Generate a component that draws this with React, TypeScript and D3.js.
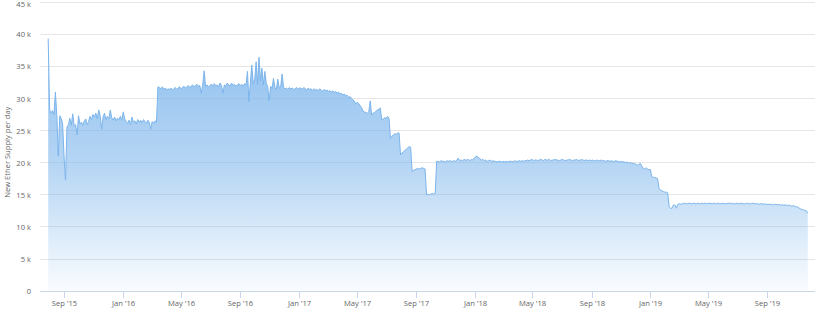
import React from "react";
import * as d3 from "d3";

// ---- data ----
const startDate = Date.UTC(2015, 6, 30); // Ethereum genesis
const stepDays = 3;
// New Ether supply per day, in thousands of ETH, one value every 3 days
const supplyK: number[] = [
  39.4, 28.3, 27.8, 28.2, 27.6, 31.1, 27.4, 21.1, 27.4, 27.0, 26.2, 21.0, 17.4,
  25.6, 26.0, 27.0, 25.9, 27.7, 25.8, 26.0, 24.4, 27.4, 26.1,
  26.4, 25.9, 26.6, 26.9, 26.0, 26.5, 27.3, 26.8, 27.6, 27.2,
  27.8, 26.9, 28.3, 27.4, 25.3, 27.2, 27.8, 26.8, 27.3, 26.9,
  28.3, 27.1, 26.7, 27.2, 26.6, 27.0, 26.8, 27.3, 26.7, 28.0,
  26.9, 26.5, 26.2, 26.7, 26.0, 27.2, 26.4, 26.6, 26.1, 26.8,
  26.4, 26.7, 26.3, 26.8, 26.5, 26.2, 26.7, 26.4, 25.3, 26.5,
  26.2, 26.6, 26.4, 31.9,
  31.8, 31.6, 31.9, 31.5, 31.7, 31.4, 31.6, 31.5, 31.7, 31.4,
  31.6, 31.8, 31.5, 31.7, 31.9, 31.6, 31.8, 32.0, 31.7, 31.9,
  32.1, 31.8, 32.0, 32.2, 31.9, 32.1, 32.3, 32.0, 32.1, 30.9,
  32.2, 34.4, 32.0, 32.2, 31.9, 32.1, 32.3, 32.0, 32.4, 32.1,
  32.2, 31.9, 32.5, 32.1, 30.9, 32.2, 32.0, 32.5, 32.2, 32.0,
  32.5, 32.1, 32.3, 32.0, 32.2, 32.4, 32.1, 32.3, 32.0, 32.4,
  32.2, 34.3, 29.6, 32.5, 35.3, 32.4, 33.0, 35.8, 32.3, 36.5,
  32.8, 34.8, 32.2, 34.3, 32.5, 31.9, 29.7, 32.0, 31.6, 33.2,
  31.8, 31.5, 33.1, 31.7, 31.9, 33.9, 31.8, 31.6, 31.7, 31.5,
  31.8, 31.6, 31.7, 31.5, 31.6, 31.8, 31.5, 31.7,
  31.7, 31.5, 31.8, 31.6, 31.4, 31.7, 31.5, 31.6, 31.3, 31.6,
  31.4, 31.5, 31.3, 31.6, 31.4, 31.2, 31.5, 31.3, 31.4, 31.2,
  31.3, 31.1, 31.3, 31.0, 31.2, 30.9, 31.1, 30.8, 30.9, 30.6,
  30.8, 30.5, 30.6, 30.2, 30.4, 30.1, 29.9, 29.7, 29.2, 29.5,
  29.3, 29.0, 28.7, 28.1, 28.0, 27.9, 27.8, 28.0, 29.7, 27.5,
  27.8, 27.9, 28.1, 28.3, 28.4, 28.6, 26.7, 26.9, 27.1, 27.0,
  27.3, 27.0, 23.9, 24.2, 24.4, 24.6, 24.5, 24.7, 24.7, 21.3,
  21.6, 21.8, 22.0, 22.2, 22.4, 22.6, 22.5, 18.7, 18.9, 19.0,
  19.1, 19.2, 19.1, 19.2, 19.3, 19.2, 19.1, 15.1, 15.2, 15.1,
  15.2, 15.3, 15.2, 15.3, 20.3,
  20.3, 20.2, 20.4, 20.3, 20.3, 20.2, 20.4, 20.3, 20.4, 20.3,
  20.3, 20.4, 20.3, 20.5, 20.8, 20.4, 20.5, 20.4, 20.6, 20.5,
  20.5, 20.6, 20.4, 20.6, 20.5, 20.8, 21.0, 21.1, 20.9, 20.7,
  20.5, 20.6, 20.4, 20.5, 20.3, 20.4, 20.5, 20.3, 20.4, 20.3,
  20.3, 20.2, 20.3, 20.3, 20.2, 20.3, 20.2, 20.3, 20.2, 20.3,
  20.3, 20.3, 20.2, 20.4, 20.3, 20.3, 20.4, 20.3, 20.4, 20.3,
  20.4, 20.4, 20.5, 20.4, 20.5, 20.6, 20.4, 20.5, 20.5, 20.4,
  20.5, 20.6, 20.5, 20.4, 20.6, 20.5, 20.5, 20.6, 20.4, 20.5,
  20.5, 20.6, 20.5, 20.5, 20.4, 20.5, 20.6, 20.5, 20.4, 20.5,
  20.5, 20.6, 20.5, 20.4, 20.5, 20.5, 20.6, 20.4, 20.5, 20.5,
  20.6, 20.4, 20.5, 20.5, 20.4, 20.5, 20.4, 20.5, 20.4, 20.4,
  20.5, 20.4, 20.4, 20.5, 20.4, 20.4, 20.3, 20.4, 20.4, 20.3,
  20.4, 20.3, 20.3, 20.4, 20.3, 20.3, 20.2, 20.3, 20.2, 20.2,
  20.1, 20.2, 20.0, 20.1, 20.0, 19.9, 20.0, 19.8, 19.7, 19.8,
  20.0, 19.6, 19.2, 19.1, 19.3, 19.1, 19.0, 19.0, 17.9, 17.8,
  17.8, 17.7, 17.6, 16.1, 15.8, 15.7, 15.6, 15.5, 15.5, 15.4,
  13.2, 13.0, 13.0, 13.5, 13.5, 13.0, 13.6, 13.7, 13.6, 13.7,
  13.7, 13.8, 13.7, 13.7, 13.8, 13.7, 13.7, 13.8, 13.7, 13.7,
  13.8, 13.7, 13.7, 13.8, 13.7, 13.8, 13.7, 13.7, 13.8, 13.7,
  13.7, 13.8, 13.7, 13.7, 13.8, 13.7, 13.7, 13.8, 13.7, 13.7,
  13.7, 13.8, 13.7, 13.8, 13.7, 13.7, 13.7, 13.8, 13.7, 13.7,
  13.8, 13.7, 13.7, 13.7, 13.8, 13.7, 13.7, 13.7, 13.8, 13.7,
  13.7, 13.7, 13.6, 13.7, 13.7, 13.6, 13.7, 13.6, 13.6, 13.6,
  13.6, 13.6, 13.5, 13.6, 13.6, 13.5, 13.6, 13.5, 13.5, 13.5,
  13.5, 13.5, 13.4, 13.5, 13.4, 13.3, 13.4, 13.3, 13.2, 13.2,
  13.0, 12.9, 12.8, 12.7, 12.7, 12.6, 12.2,
];

const yTickValues = [0, 5000, 10000, 15000, 20000, 25000, 30000, 35000, 40000, 45000];
const yTickLabels = ["0", "5 k", "10 k", "15 k", "20 k", "25 k", "30 k", "35 k", "40 k", "45 k"];
const xTickDates = [
  "2015-09-01", "2016-01-01", "2016-05-01", "2016-09-01", "2017-01-01", "2017-05-01",
  "2017-09-01", "2018-01-01", "2018-05-01", "2018-09-01", "2019-01-01", "2019-05-01", "2019-09-01",
];
const yAxisTitle = "New Ether Supply per day";

const W = 820;
const H = 314;
const FONT = "'Open Sans', 'Liberation Sans', Arial, sans-serif";

export default function App() {
  const x = d3
    .scaleUtc()
    .domain([new Date(Date.UTC(2015, 6, 13)), new Date(Date.UTC(2019, 11, 9))])
    .range([40, 815]);
  const y = d3.scaleLinear().domain([0, 45000]).range([291.7, 2.7]);

  const data = supplyK.map((v, i) => ({
    date: new Date(startDate + i * stepDays * 86400000),
    value: v * 1000,
  }));

  const area = d3
    .area<{ date: Date; value: number }>()
    .x((d) => x(d.date))
    .y0(y(0))
    .y1((d) => y(d.value));
  const line = d3
    .line<{ date: Date; value: number }>()
    .x((d) => x(d.date))
    .y((d) => y(d.value));

  const fmt = d3.utcFormat("%b '%y");
  const crisp = (v: number) => Math.round(v) - 0.5;
  const maxV = d3.max(data, (d) => d.value) as number;

  return (
    <svg
      width={W}
      height={H}
      style={{ position: "absolute", left: 0, top: 0, background: "#fff" }}
      fontFamily={FONT}
    >
      <defs>
        <linearGradient
          id="fillGrad"
          gradientUnits="userSpaceOnUse"
          x1={0}
          x2={0}
          y1={y(maxV)}
          y2={y(0)}
        >
          <stop offset="0" stopColor="#7cb5ec" stopOpacity={0.85} />
          <stop offset="0.5" stopColor="#7cb5ec" stopOpacity={0.56} />
          <stop offset="1" stopColor="#7cb5ec" stopOpacity={0.04} />
        </linearGradient>
      </defs>

      {/* grid */}
      {yTickValues.map((v) =>
        v === 0 ? null : (
          <line key={v} x1={40} x2={815} y1={crisp(y(v))} y2={crisp(y(v))} stroke="#e6e6e6" strokeWidth={1} />
        )
      )}

      {/* area + line */}
      <path d={area(data) || ""} fill="url(#fillGrad)" />
      <path d={line(data) || ""} fill="none" stroke="#7cb5ec" strokeWidth={1} strokeLinejoin="round" />

      {/* x axis */}
      <line x1={40} x2={815} y1={crisp(y(0))} y2={crisp(y(0))} stroke="#ccd6eb" strokeWidth={1} />
      {xTickDates.map((s) => {
        const d = new Date(s + "T00:00:00Z");
        const px = Math.round(x(d)) + 0.5;
        return (
          <g key={s}>
            <line x1={px} x2={px} y1={292} y2={298} stroke="#ccd6eb" strokeWidth={1} />
            <text x={px} y={306} textAnchor="middle" fontSize={7.6} fill="#666">
              {fmt(d)}
            </text>
          </g>
        );
      })}

      {/* y axis labels */}
      {yTickValues.map((v, i) => (
        <text key={v} x={31} y={Math.max(y(v), 4.6)} dy="0.33em" textAnchor="end" fontSize={7.6} fill="#666">
          {yTickLabels[i]}
        </text>
      ))}
      <text
        transform={`translate(7.5, ${(y(0) + y(45000)) / 2 + 5}) rotate(-90)`}
        textAnchor="middle"
        dy="0.33em"
        fontSize={7.6}
        fill="#666"
      >
        {yAxisTitle}
      </text>
    </svg>
  );
}
